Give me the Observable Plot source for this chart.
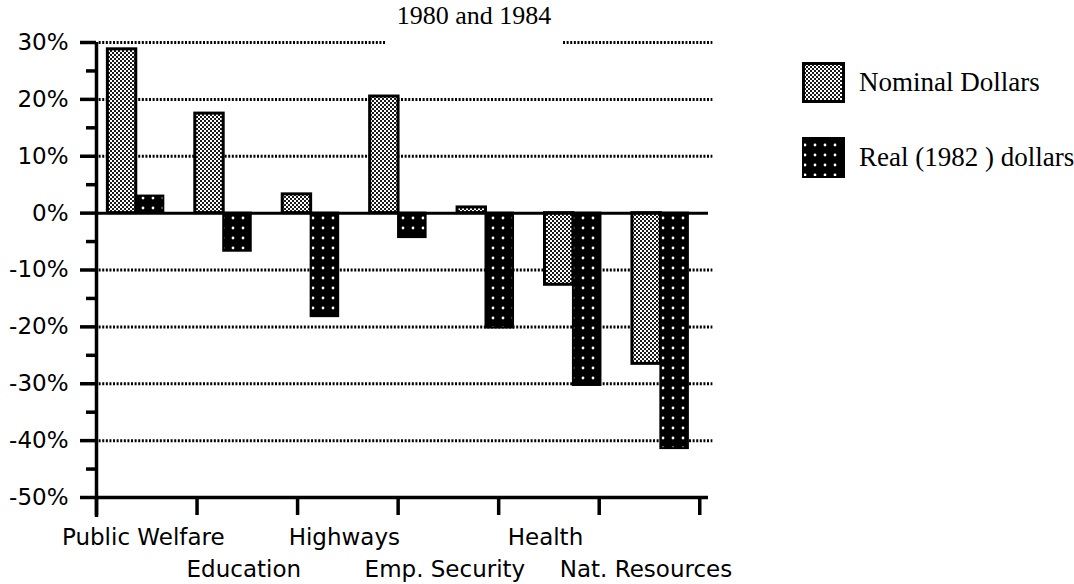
<!DOCTYPE html>
<html>
<head>
<meta charset="utf-8">
<script src="https://cdn.jsdelivr.net/npm/d3@7"></script>
<script src="https://cdn.jsdelivr.net/npm/@observablehq/plot@0.6"></script>
<style>
  body { margin: 0; background: white; }
  #wrap { position: relative; width: 1074px; height: 584px; overflow: hidden; }
  #chart { position: absolute; left: 0; top: 0; }
  #title { position: absolute; left: 386px; top: -1px; width: 176px; height: 47px; background: white;
           font-family: "Liberation Serif", serif; font-size: 26px; line-height: 34px; text-align: center; color: black; }
  .leg { position: absolute; left: 802px; display: flex; align-items: center; }
  .leg span { font-family: "Liberation Serif", serif; font-size: 27px; margin-left: 14px; color: black; white-space: nowrap; }
</style>
</head>
<body>
<svg width="0" height="0" style="position:absolute">
  <defs>
    <pattern id="nom" patternUnits="userSpaceOnUse" width="4" height="4">
      <rect width="4" height="4" fill="white"/>
      <rect x="0" y="0" width="2" height="2" fill="#1a1a1a"/>
      <rect x="2" y="2" width="2" height="2" fill="#1a1a1a"/>
    </pattern>
    <pattern id="real" patternUnits="userSpaceOnUse" width="10" height="10">
      <rect width="10" height="10" fill="black"/>
      <circle cx="3" cy="8" r="1.4" fill="white"/>
    </pattern>
  </defs>
</svg>
<div id="wrap">
  <div id="chart"></div>
  <div id="title">1980 and 1984</div>
  <div class="leg" style="top:62px">
    <svg width="43" height="41"><rect x="1.5" y="1.5" width="40" height="38" fill="url(#nom)" stroke="black" stroke-width="3"/></svg>
    <span>Nominal Dollars</span>
  </div>
  <div class="leg" style="top:137px">
    <svg width="43" height="41"><rect x="1" y="1" width="41" height="39" fill="url(#real)" stroke="black" stroke-width="2"/></svg>
    <span>Real (1982 ) dollars</span>
  </div>
</div>
<script>
// Category tick labels (6 labels under the axis)
const labels = ["Public Welfare", "Education", "Highways", "Emp. Security", "Health", "Nat. Resources"];
// Percent change, seven bar groups as drawn
const nominal = [28.8, 17.5, 3.3, 20.5, 1.0, -12.6, -26.5];
const real = [3.0, -6.7, -18.2, -4.3, -20.2, -30.3, -41.4];
// Y axis ticks
const yTicks = [30, 20, 10, 0, -10, -20, -30, -40, -50];
const yMinorTicks = [25, 15, 5, -5, -15, -25, -35, -45];
const gridValues = [30, 20, 10, -10, -20, -30, -40];

const groups = nominal.map((v, i) => ({i, nominal: v, real: real[i]}));
const NOM0 = 0.13, NOM1 = 0.455, REAL1 = 0.77;
const tickStep = 1.15;
const tickPos = d3.range(labels.length + 1).map(k => k * tickStep);
const labelData = labels.map((l, k) => ({label: l, x: (k + 0.5) * tickStep - 0.04, row: k % 2}));

const chart = Plot.plot({
  width: 740,
  height: 584,
  marginLeft: 96,
  marginRight: 32,
  marginTop: 42,
  marginBottom: 87,
  x: {domain: [0, 7], axis: null},
  y: {domain: [-50, 30], axis: null},
  style: {fontFamily: "DejaVu Sans", fontSize: "23px", color: "black", background: "white", overflow: "visible"},
  marks: [
    Plot.ruleY(gridValues, {x1: 0.03, x2: 7.05, stroke: "black", strokeWidth: 3, strokeDasharray: "2 1.6"}),
    Plot.rect(groups, {x1: d => d.i + NOM0, x2: d => d.i + NOM1, y1: 0, y2: "nominal", fill: "url(#nom)", stroke: "black", strokeWidth: 3}),
    Plot.rect(groups, {x1: d => d.i + NOM1, x2: d => d.i + REAL1, y1: 0, y2: "real", fill: "url(#real)", stroke: "black", strokeWidth: 2}),
    Plot.ruleY([0], {x1: 0, x2: 7, stroke: "black", strokeWidth: 3}),
    Plot.ruleY([-50], {x1: 0, x2: 7, stroke: "black", strokeWidth: 3.5}),
    Plot.ruleX([0], {stroke: "black", strokeWidth: 3.5, insetBottom: -20}),
    Plot.axisY({ticks: yTicks, tickSize: 16, tickPadding: 12, tickFormat: d => d + "%", strokeWidth: 3.5, fontSize: 23, label: null}),
    Plot.axisY({ticks: yMinorTicks, tickSize: 10, tickFormat: () => "", strokeWidth: 3.5, label: null}),
    Plot.axisX({ticks: tickPos, tickSize: 18, tickFormat: () => "", strokeWidth: 3.5, label: null}),
    Plot.text(labelData.filter(d => d.row === 0), {x: "x", text: "label", frameAnchor: "bottom", lineAnchor: "bottom", dy: 47, fontSize: 23, fill: "black"}),
    Plot.text(labelData.filter(d => d.row === 1), {x: "x", text: "label", frameAnchor: "bottom", lineAnchor: "bottom", dy: 79, fontSize: 23, fill: "black"})
  ]
});
document.getElementById("chart").appendChild(chart);
</script>
</body>
</html>
